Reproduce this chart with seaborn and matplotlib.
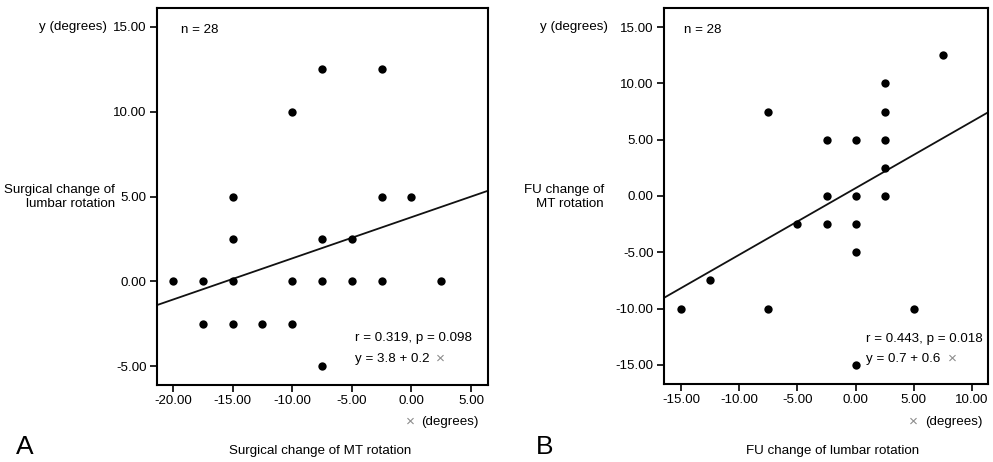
import matplotlib
matplotlib.use("Agg")
import matplotlib.pyplot as plt
import seaborn as sns
import pandas as pd

# ---------------- data ----------------
a_x = [-20, -17.5, -15, -10, -7.5, -5, -2.5, 2.5,
       -17.5, -15, -12.5, -10,
       -7.5,
       -15, -7.5, -5,
       -15, -2.5, 0,
       -10,
       -7.5, -2.5]
a_y = [0, 0, 0, 0, 0, 0, 0, 0,
       -2.5, -2.5, -2.5, -2.5,
       -5,
       2.5, 2.5, 2.5,
       5, 5, 5,
       10,
       12.5, 12.5]
a_intercept, a_slope = 3.78, 0.243

b_x = [7.5, 2.5, -7.5, 2.5, -2.5, 0, 2.5, 2.5, -2.5, 0, 2.5,
       -5, -2.5, 0, 0, -12.5, -15, -7.5, 5, 0]
b_y = [12.5, 10, 7.5, 7.5, 5, 5, 5, 2.5, 0, 0, 0,
       -2.5, -2.5, -2.5, -5, -7.5, -10, -10, -10, -15]
b_intercept, b_slope = 0.7, 0.592

a_xticks = [-20, -15, -10, -5, 0, 5]
a_yticks = [-5, 0, 5, 10, 15]
b_xticks = [-15, -10, -5, 0, 5, 10]
b_yticks = [-15, -10, -5, 0, 5, 10, 15]

# ---------------- style ----------------
sns.set_style("ticks")
plt.rcParams['font.family'] = ['Liberation Sans', 'DejaVu Sans']
plt.rcParams['text.color'] = 'black'

W, H = 993, 462
fig = plt.figure(figsize=(W / 100, H / 100), dpi=100)

def px(x, y):
    return x / W, 1 - y / H

FS = 9.6
GRAY = "#8a8a8a"

def panel(rect, xs, ys, icpt, slope, xlim, ylim, xticks, yticks):
    ax = fig.add_axes(rect)
    df = pd.DataFrame({"x": xs, "y": ys})
    sns.scatterplot(data=df, x="x", y="y", ax=ax, color="black", s=36,
                    linewidth=0, zorder=3)
    ax.axline((0, icpt), slope=slope, color="#111111", lw=1.3, zorder=2)
    ax.set_xlim(*xlim)
    ax.set_ylim(*ylim)
    ax.set_xticks(xticks)
    ax.set_yticks(yticks)
    ax.set_xticklabels([f"{v:.2f}" for v in xticks], fontsize=FS)
    ax.set_yticklabels([f"{v:.2f}" for v in yticks], fontsize=FS)
    ax.set_xlabel("")
    ax.set_ylabel("")
    for s in ax.spines.values():
        s.set_visible(True)
        s.set_linewidth(1.5)
        s.set_color("black")
    ax.tick_params(direction="out", length=5, width=1.2, pad=2.5,
                   colors="black")
    return ax

axA = panel([157 / W, 1 - 385 / H, 331 / W, 377 / H], a_x, a_y,
            a_intercept, a_slope, (-21.34, 6.42), (-6.12, 16.12),
            a_xticks, a_yticks)
axB = panel([664 / W, 1 - 384 / H, 324 / W, 376 / H], b_x, b_y,
            b_intercept, b_slope, (-16.46, 11.37), (-16.7, 16.7),
            b_xticks, b_yticks)

# ---------------- texts: panel A ----------------
fig.text(*px(107, 27), "y (degrees)", ha="right", va="center", fontsize=FS)
fig.text(*px(115, 197), "Surgical change of\nlumbar rotation", ha="right",
         va="center", fontsize=FS, linespacing=1.3, multialignment="right")
fig.text(*px(181, 30), "n = 28", ha="left", va="center", fontsize=FS)
fig.text(*px(355, 338), "r = 0.319, p = 0.098", ha="left", va="center", fontsize=FS)
fig.text(*px(355, 359), "y = 3.8 + 0.2", ha="left", va="center", fontsize=FS)
fig.text(*px(436, 359), "\u00d7", ha="left", va="center", fontsize=FS + 1.5, color=GRAY)
fig.text(*px(406, 422), "\u00d7", ha="left", va="center", fontsize=FS + 1.5, color=GRAY)
fig.text(*px(479, 422), "(degrees)", ha="right", va="center", fontsize=FS)
fig.text(*px(320, 451), "Surgical change of MT rotation", ha="center",
         va="center", fontsize=FS)
fig.text(*px(16, 447), "A", ha="left", va="center", fontsize=19)

# ---------------- texts: panel B ----------------
fig.text(*px(608, 27), "y (degrees)", ha="right", va="center", fontsize=FS)
fig.text(*px(604, 197), "FU change of\nMT rotation", ha="right",
         va="center", fontsize=FS, linespacing=1.3, multialignment="right")
fig.text(*px(684, 30), "n = 28", ha="left", va="center", fontsize=FS)
fig.text(*px(866, 339), "r = 0.443, p = 0.018", ha="left", va="center", fontsize=FS)
fig.text(*px(866, 359), "y = 0.7 + 0.6", ha="left", va="center", fontsize=FS)
fig.text(*px(948, 359), "\u00d7", ha="left", va="center", fontsize=FS + 1.5, color=GRAY)
fig.text(*px(909, 422), "\u00d7", ha="left", va="center", fontsize=FS + 1.5, color=GRAY)
fig.text(*px(983, 422), "(degrees)", ha="right", va="center", fontsize=FS)
fig.text(*px(833, 451), "FU change of lumbar rotation", ha="center",
         va="center", fontsize=FS)
fig.text(*px(536, 447), "B", ha="left", va="center", fontsize=19)

fig.savefig("out.png", dpi=100)
